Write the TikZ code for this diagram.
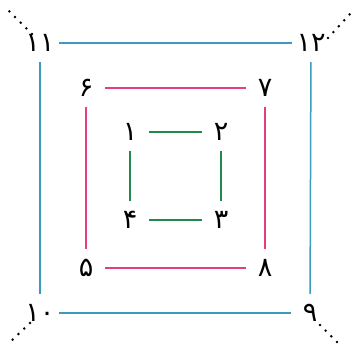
\documentclass[tikz,border=0pt]{standalone}
\usepackage{fontspec}
\newfontfamily\fadigits{DejaVu Sans}
\usetikzlibrary{positioning}

\definecolor{outerblue}{RGB}{62,152,196}
\definecolor{midpink}{RGB}{230,60,128}
\definecolor{innergreen}{RGB}{34,138,72}

\begin{document}
\begin{tikzpicture}[
    x=1pt, y=-1pt,
    corner/.style={rectangle, minimum width=38pt, minimum height=38pt, inner sep=0pt, font=\fadigits\fontsize{27}{30}\selectfont},
    outerline/.style={line width=1.5pt, outerblue},
    midline/.style={line width=1.5pt, midpink},
    innerline/.style={line width=1.5pt, innergreen},
    dotrow/.style={line width=2.8pt, line cap=round, dash pattern=on 0pt off 8pt},
]
\useasboundingbox (0,0) rectangle (353,347);

% outer square
\node[corner] (n11) at (40,43) {۱۱};
\node[corner] (n12) at (311,43) {۱۲};
\node[corner] (n9) at (310,313) {۹};
\node[corner] (n10) at (40,313) {۱۰};

% middle square
\node[corner] (n6) at (86,88) {۶};
\node[corner] (n7) at (265,88) {۷};
\node[corner] (n8) at (265,268) {۸};
\node[corner] (n5) at (86,268) {۵};

% inner square
\node[corner] (n1) at (130,132) {۱};
\node[corner] (n2) at (221,132) {۲};
\node[corner] (n3) at (221,220) {۳};
\node[corner] (n4) at (130,220) {۴};

\draw[outerline] (n11) -- (n12);
\draw[outerline] (n12) -- (n9);
\draw[outerline] (n9) -- (n10);
\draw[outerline] (n10) -- (n11);

\draw[midline] (n6) -- (n7);
\draw[midline] (n7) -- (n8);
\draw[midline] (n8) -- (n5);
\draw[midline] (n5) -- (n6);

\draw[innerline] (n1) -- (n2);
\draw[innerline] (n2) -- (n3);
\draw[innerline] (n3) -- (n4);
\draw[innerline] (n4) -- (n1);

% dotted tails
\coordinate (t11) at (8,10);
\coordinate (t12) at (350,14);
\coordinate (t9) at (337,342);
\coordinate (t10) at (7,345);
\draw[dotrow] ([shift={(-8,-9)}]n11.center) -- (t11);
\draw[dotrow] ([shift={(17,-5)}]n12.center) -- (t12);
\draw[dotrow] ([shift={(10,12)}]n9.center) -- (t9);
\draw[dotrow] ([shift={(-10,10)}]n10.center) -- (t10);
\end{tikzpicture}
\end{document}
